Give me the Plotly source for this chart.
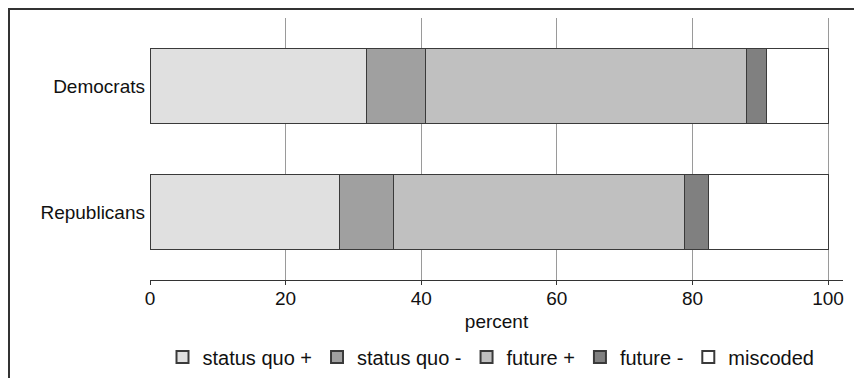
import plotly.graph_objects as go

groups = ["Democrats", "Republicans"]
series_names = ["status quo +", "status quo -", "future +", "future -", "miscoded"]
status_quo_pos = [31.9, 28.0]
status_quo_neg = [8.7, 7.9]
future_pos = [47.4, 42.9]
future_neg = [2.9, 3.5]
miscoded = [9.1, 17.7]
series_values = [status_quo_pos, status_quo_neg, future_pos, future_neg, miscoded]
colors = ["#e0e0e0", "#a0a0a0", "#c0c0c0", "#808080", "#ffffff"]
x_ticks = [0, 20, 40, 60, 80, 100]

fig = go.Figure()
for name, vals, col in zip(series_names, series_values, colors):
    fig.add_trace(go.Bar(
        y=groups, x=vals, name=name, orientation="h",
        marker=dict(color=col, line=dict(color="#3a3a3a", width=1)),
        width=0.6,
    ))

# page offset of 8px (default body margin) is taken into account
W, H = 862, 378
L, R, T, B = 142, 27, 10, 106
pw, ph = W - L - R, H - T - B

def px_x(p):
    return (p - L) / pw

def px_y(p):
    return (H - B - p) / ph

font = "Liberation Sans, Arial, sans-serif"
fig.update_layout(
    width=W, height=H,
    margin=dict(l=L, r=R, t=T, b=B),
    barmode="stack",
    plot_bgcolor="white", paper_bgcolor="white",
    font=dict(family=font, size=19, color="#111111"),
    xaxis=dict(
        range=[0, 102.2], tickvals=x_ticks, ticks="outside", ticklen=4,
        tickcolor="#333", showline=True, linecolor="#333", linewidth=1,
        showgrid=True, gridcolor="#9a9a9a", gridwidth=1, zeroline=False,
        tickfont=dict(size=19), ticklabelstandoff=-3,
        title=dict(text="percent", font=dict(size=19), standoff=6),
    ),
    yaxis=dict(
        range=[1.54, -0.54], ticks="", showline=False, showgrid=False,
        tickfont=dict(size=19), ticklabelstandoff=4,
    ),
    legend=dict(
        orientation="h", x=px_x(483), xanchor="center", y=px_y(349), yanchor="middle",
        font=dict(size=20), traceorder="normal", itemsizing="constant",
        tracegroupgap=0,
    ),
    showlegend=True,
    shapes=[
        dict(type="line", xref="paper", yref="paper",
             x0=px_x(0), x1=px_x(870), y0=px_y(1), y1=px_y(1),
             line=dict(color="#333", width=2)),
        dict(type="line", xref="paper", yref="paper",
             x0=px_x(1), x1=px_x(1), y0=px_y(0), y1=px_y(385),
             line=dict(color="#333", width=2)),
    ],
)

fig.write_html("out.html")
